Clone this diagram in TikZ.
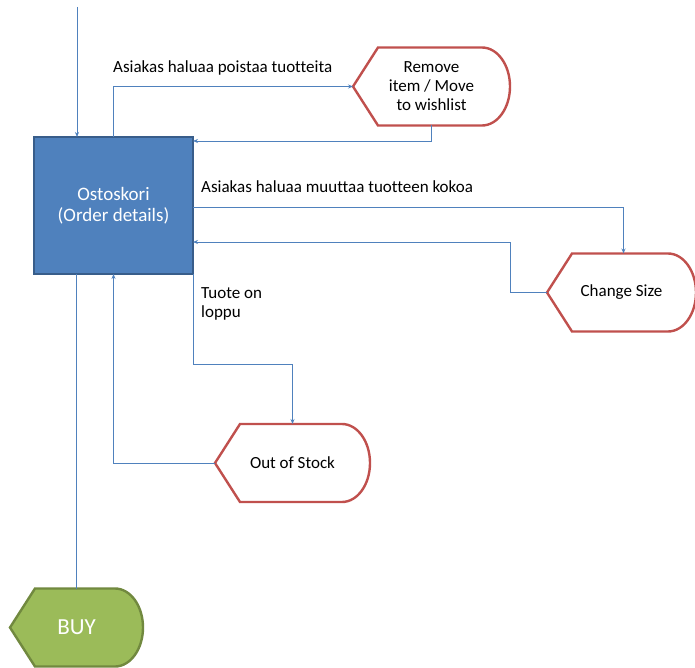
\documentclass[tikz,border=0pt]{standalone}
\usepackage{fontspec}
\setmainfont{Carlito}[Ligatures=NoCommon]
\usetikzlibrary{arrows.meta,backgrounds}
\definecolor{cartblue}{HTML}{4F81BD}
\definecolor{cartedge}{HTML}{385D8A}
\definecolor{flowblue}{HTML}{4F81BD}
\definecolor{dispred}{HTML}{C0504D}
\definecolor{buygreen}{HTML}{9BBB59}
\definecolor{buyedge}{HTML}{71893F}
\newcommand{\dispoutline}[2]{\draw[#2] (#1.west) -- ([xshift=25pt]#1.north west) -- ([xshift=-28pt]#1.north east) arc (90:-90:28pt and 39pt) -- ([xshift=25pt]#1.south west) -- cycle;}
\begin{document}
\begin{tikzpicture}[x=1pt,y=-1pt,
    flow/.style={flowblue,line width=0.8pt},
    tip/.style={-{Stealth[length=5pt,width=4pt]}},
    lbl/.style={inner sep=0pt,anchor=west,align=left,font=\fontsize{17}{19}\selectfont},
    cartbox/.style={fill=cartblue,draw=cartedge,line width=2pt,minimum width=159pt,minimum height=137pt,outer sep=0pt,text=white,align=center,font=\fontsize{19}{21}\selectfont},
    disp/.style={minimum height=78pt,outer sep=0pt,inner sep=0pt,align=center,font=\fontsize{17}{19}\selectfont}]
    \useasboundingbox (0,0) rectangle (695,668);
    \node[cartbox] (cart) at (113.5,205.5) {Ostoskori\\(Order details)};
    \node[disp,minimum width=157pt] (remove) at (431.5,86.5) {Remove\\item / Move\\to wishlist};
    \node[disp,minimum width=149pt] (change) at (621.5,292.5) {Change Size};
    \node[disp,minimum width=155pt] (stock) at (292.5,463) {Out of Stock};
    \node[disp,minimum width=133pt,text=white,font=\fontsize{23}{28}\selectfont] (buy) at (76.5,627.5) {BUY};
    \begin{scope}[on background layer]
        \dispoutline{remove}{draw=dispred,fill=white,line width=2.4pt}
        \dispoutline{change}{draw=dispred,fill=white,line width=2.4pt}
        \dispoutline{stock}{draw=dispred,fill=white,line width=2.4pt}
        \dispoutline{buy}{draw=buyedge,fill=buygreen,line width=2.4pt}
    \end{scope}
    \node[lbl] (lremove) at (113,68) {Asiakas haluaa poistaa tuotteita};
    \node[lbl] (lchange) at (201,187) {Asiakas haluaa muuttaa tuotteen kokoa};
    \node[lbl] (lstock) at (201,304) {Tuote on\\loppu};
    \coordinate (start) at (77,7);
    \draw[flow,tip] (start) -- (start |- cart.north);
    \draw[flow,tip] (cart.north) |- (remove.west);
    \draw[flow,tip] (remove.south) |- ([yshift=-4pt]cart.north east);
    \draw[flow,tip] ([yshift=-70pt]cart.north east) -| ([xshift=2pt]change.north);
    \draw[flow,tip] (change.west) -- ++(-37,0) |- ([yshift=-105pt]cart.north east);
    \draw[flow,tip] (cart.south east) -- ++(0,90) -| (stock.north);
    \draw[flow,tip] (stock.west) -| (cart.south);
    \draw[flow] (buy.north) -- (buy.north |- cart.south);
\end{tikzpicture}
\end{document}
